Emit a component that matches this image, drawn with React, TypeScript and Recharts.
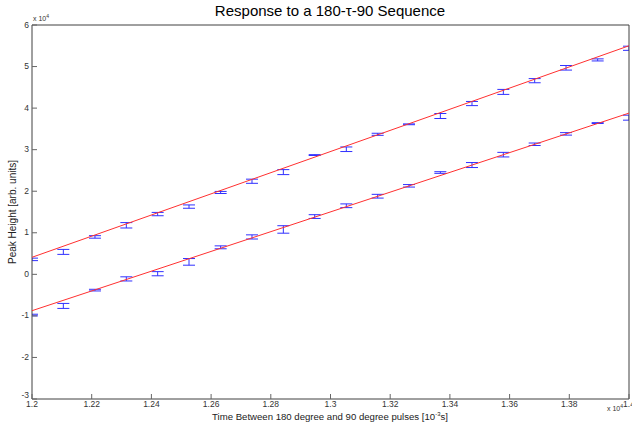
import React from "react";
import { ComposedChart, Scatter, XAxis, YAxis, ErrorBar } from "recharts";

// Time values (x 10^-4 display units as on the axis)
const xVals = [1.2, 1.2105, 1.2211, 1.2316, 1.2421, 1.2526, 1.2632, 1.2737, 1.2842, 1.2947, 1.3053, 1.3158, 1.3263, 1.3368, 1.3474, 1.3579, 1.3684, 1.3789, 1.3895, 1.4];
const upperVals = [0.36, 0.54, 0.9, 1.18, 1.45, 1.63, 1.97, 2.24, 2.46, 2.87, 3.01, 3.37, 3.61, 3.81, 4.11, 4.39, 4.66, 4.97, 5.16, 5.44];
const upperErr = [0.03, 0.06, 0.03, 0.065, 0.04, 0.04, 0.025, 0.05, 0.06, 0.01, 0.055, 0.025, 0.01, 0.06, 0.05, 0.06, 0.05, 0.055, 0.025, 0.05];
const lowerVals = [-0.98, -0.76, -0.38, -0.11, 0.015, 0.3, 0.65, 0.9, 1.08, 1.39, 1.65, 1.88, 2.13, 2.45, 2.63, 2.88, 3.13, 3.38, 3.64, 3.77];
const lowerErr = [0.02, 0.06, 0.02, 0.05, 0.05, 0.08, 0.035, 0.05, 0.09, 0.045, 0.045, 0.045, 0.03, 0.02, 0.06, 0.055, 0.03, 0.03, 0.01, 0.06];
const fitX = [1.2, 1.4];
const upperFit = [0.41, 5.5];
const lowerFit = [-0.875, 3.88];
const xTicks = [1.2, 1.22, 1.24, 1.26, 1.28, 1.3, 1.32, 1.34, 1.36, 1.38, 1.4];
const yTicks = [-3, -2, -1, 0, 1, 2, 3, 4, 5, 6];

const upperData = xVals.map((x, i) => ({ x, y: upperVals[i], err: upperErr[i] }));
const lowerData = xVals.map((x, i) => ({ x, y: lowerVals[i], err: lowerErr[i] }));
const upperFitData = fitX.map((x, i) => ({ x, y: upperFit[i] }));
const lowerFitData = fitX.map((x, i) => ({ x, y: lowerFit[i] }));

const FONT = "'Liberation Sans', Arial, Helvetica, sans-serif";
const AX = "#404040";
const TICKC = "#666";
const LABC = "#333";

const fmtX = (v: number) => String(Number(v.toFixed(2)));

const BottomTick = (p: any) => (
  <g>
    <line x1={p.x} y1={p.y} x2={p.x} y2={p.y - 5} stroke={TICKC} />
    <text x={p.x} y={p.y + 7.5} textAnchor="middle" fontSize={8.5} fill={LABC} fontFamily={FONT}>
      {fmtX(p.payload.value)}
    </text>
  </g>
);
const TopTick = (p: any) => <line x1={p.x} y1={p.y} x2={p.x} y2={p.y + 5} stroke={TICKC} />;
const LeftTick = (p: any) => (
  <g>
    <line x1={p.x} y1={p.y} x2={p.x + 5} y2={p.y} stroke={TICKC} />
    <text
      x={p.x - 3}
      y={p.payload.value === -3 ? p.y - 1 : p.y + 2.5}
      textAnchor="end"
      fontSize={8.5}
      fill={LABC}
      fontFamily={FONT}
    >
      {String(p.payload.value)}
    </text>
  </g>
);
const RightTick = (p: any) => <line x1={p.x} y1={p.y} x2={p.x - 5} y2={p.y} stroke={TICKC} />;

const NoShape = () => <g />;

export default function App() {
  return (
    <div style={{ position: "absolute", left: 0, top: 0, width: 632, height: 426, background: "#fff", fontFamily: FONT }}>
      <style>{`.plotclip { clip-path: url(#plotAreaClip); }`}</style>
      <svg width={0} height={0} style={{ position: "absolute" }}>
        <defs>
          <clipPath id="plotAreaClip" clipPathUnits="userSpaceOnUse">
            <rect x={32} y={25} width={597} height={374} />
          </clipPath>
        </defs>
      </svg>
      <ComposedChart width={632} height={426} margin={{ top: 24, right: 2, bottom: 26, left: 31 }}>
        <XAxis
          xAxisId={0}
          dataKey="x"
          type="number"
          domain={[1.2, 1.4]}
          ticks={xTicks}
          interval={0}
          allowDataOverflow
          height={1}
          tickSize={0}
          tickMargin={0}
          tickLine={false}
          axisLine={{ stroke: AX }}
          tick={<BottomTick />}
        />
        <XAxis
          xAxisId="top"
          orientation="top"
          dataKey="x"
          type="number"
          domain={[1.2, 1.4]}
          ticks={xTicks}
          interval={0}
          height={1}
          tickSize={0}
          tickMargin={0}
          tickLine={false}
          axisLine={{ stroke: AX }}
          tick={<TopTick />}
        />
        <YAxis
          yAxisId={0}
          dataKey="y"
          type="number"
          domain={[-3, 6]}
          ticks={yTicks}
          interval={0}
          allowDataOverflow
          width={1}
          tickSize={0}
          tickMargin={0}
          tickLine={false}
          axisLine={{ stroke: AX }}
          tick={<LeftTick />}
        />
        <YAxis
          yAxisId="right"
          orientation="right"
          dataKey="y"
          type="number"
          domain={[-3, 6]}
          ticks={yTicks}
          interval={0}
          width={1}
          tickSize={0}
          tickMargin={0}
          tickLine={false}
          axisLine={{ stroke: AX }}
          tick={<RightTick />}
        />
        <Scatter className="plotclip" data={upperData} dataKey="y" shape={NoShape} isAnimationActive={false}>
          <ErrorBar className="plotclip" dataKey="err" direction="y" width={6} stroke="#3030ff" strokeWidth={1} isAnimationActive={false} />
        </Scatter>
        <Scatter className="plotclip" data={lowerData} dataKey="y" shape={NoShape} isAnimationActive={false}>
          <ErrorBar className="plotclip" dataKey="err" direction="y" width={6} stroke="#3030ff" strokeWidth={1} isAnimationActive={false} />
        </Scatter>
        <Scatter data={upperFitData} dataKey="y" shape={NoShape} line={{ stroke: "#ff3030", strokeWidth: 1 }} isAnimationActive={false} />
        <Scatter data={lowerFitData} dataKey="y" shape={NoShape} line={{ stroke: "#ff3030", strokeWidth: 1 }} isAnimationActive={false} />
      </ComposedChart>

      <div style={{ position: "absolute", left: 130, width: 400, top: 2, textAlign: "center", fontSize: 15, color: "#000", whiteSpace: "nowrap" }}>
        Response to a 180-τ-90 Sequence
      </div>
      <div style={{ position: "absolute", left: 33, top: 13, fontSize: 7, color: LABC, whiteSpace: "nowrap" }}>
        x 10<sup style={{ fontSize: 5 }}>4</sup>
      </div>
      <div style={{ position: "absolute", left: 607, top: 403, fontSize: 7, color: LABC, whiteSpace: "nowrap" }}>
        x 10<sup style={{ fontSize: 5 }}>4</sup>
      </div>
      <div style={{ position: "absolute", left: 130, width: 400, top: 411, textAlign: "center", fontSize: 9.6, color: "#222", whiteSpace: "nowrap" }}>
        Time Between 180 degree and 90 degree pulses [10<sup style={{ fontSize: 6 }}>-3</sup>s]
      </div>
      <div
        style={{
          position: "absolute",
          left: 12,
          top: 212,
          transform: "translate(-50%, -50%) rotate(-90deg)",
          fontSize: 10,
          color: "#222",
          whiteSpace: "nowrap",
        }}
      >
        Peak Height [arb. units]
      </div>
    </div>
  );
}
